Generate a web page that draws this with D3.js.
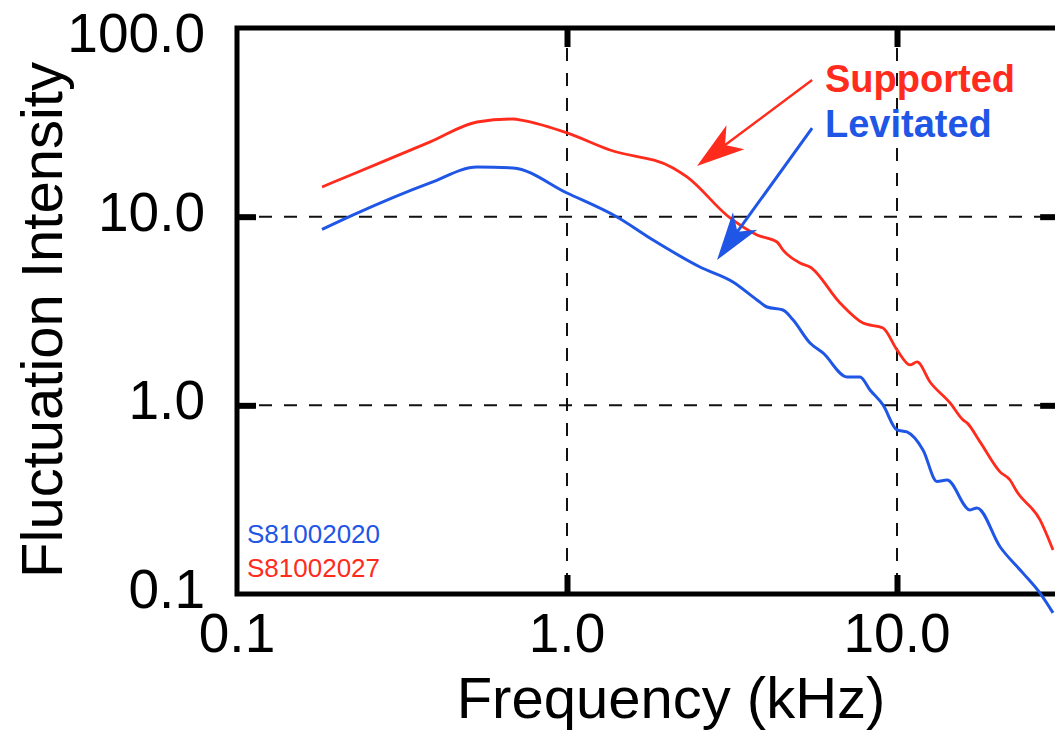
<!DOCTYPE html>
<html><head><meta charset="utf-8">
<script src="https://cdn.jsdelivr.net/npm/d3@7"></script>
<style>body{margin:0;background:#fff}svg{display:block}</style>
</head><body><svg id="c" width="1055" height="732"></svg>
<script>
const xTicks = [0.1, 1, 10];
const yTicks = [0.1, 1, 10, 100];
const xTickLabels = ["0.1", "1.0", "10.0"];
const yTickLabels = ["0.1", "1.0", "10.0", "100.0"];
const seriesNames = ["Supported", "Levitated"];
const runIds = ["S81002020", "S81002027"];

const supportedFreq = [0.181, 0.225, 0.385, 0.534, 0.686, 0.74, 1.0, 1.35, 2.096, 2.31, 3.12, 3.765, 4.33, 4.51, 5.08, 5.45, 6.72, 7.89, 9.07, 10.0, 10.95, 11.5, 12.59, 14.48, 15.85, 16.3, 17.85, 20.52, 22.0, 23.1, 27.13, 29.7];
const supportedVal  = [14.37, 16.84, 24.9, 31.75, 32.94, 32.3, 27.8, 22.56, 18.12, 16.24, 9.84, 8.0, 7.34, 6.66, 5.68, 5.41, 3.49, 2.73, 2.57, 1.966, 1.637, 1.698, 1.33, 1.03, 0.837, 0.807, 0.64, 0.444, 0.402, 0.348, 0.247, 0.171];

const levitatedFreq = [0.181, 0.225, 0.385, 0.534, 0.686, 1.0, 1.418, 1.823, 2.529, 3.184, 3.765, 4.037, 4.514, 4.839, 5.45, 5.967, 7.055, 7.725, 8.284, 9.07, 10.0, 10.72, 11.99, 13.22, 14.18, 16.64, 17.48, 20.52, 24.09, 27.13, 29.7];
const levitatedVal  = [8.55, 10.21, 15.09, 18.34, 18.12, 13.35, 9.96, 7.52, 5.41, 4.51, 3.62, 3.32, 3.2, 2.84, 2.14, 1.895, 1.414, 1.414, 1.206, 1.005, 0.741, 0.723, 0.58, 0.395, 0.402, 0.279, 0.286, 0.178, 0.129, 0.101, 0.0794];

// arrow annotations: [startFreq, startVal, tipFreq, tipVal]
const supportedArrow = [5.53, 53.0, 2.477, 18.57];
const levitatedArrow = [5.53, 29.5, 2.848, 5.89];

const RED = "#ff2b1c", BLUE = "#1f56e6";
const FONT = "'Liberation Sans', Arial, Helvetica, sans-serif";

const L = 237, T = 28, B = 594;
const R = L + 330 * Math.log10(310);
const x = d3.scaleLog().domain([0.1, 31]).range([L, R]);
const y = d3.scaleLog().domain([0.1, 100]).range([B, T]);

const svg = d3.select("#c");
svg.append("rect").attr("width", 1055).attr("height", 732).attr("fill", "#fff");

// grid
const grid = svg.append("g").attr("stroke", "#111").attr("stroke-width", 2).attr("stroke-dasharray", "13,12");
grid.selectAll(".gv").data([1, 10]).join("line")
  .attr("x1", d => x(d)).attr("x2", d => x(d)).attr("y1", T + 20).attr("y2", B - 3);
grid.selectAll(".gh").data([1, 10]).join("line")
  .attr("y1", d => y(d)).attr("y2", d => y(d)).attr("x1", L + 22).attr("x2", R);

// inward ticks via axes
function styleAxis(g) {
  g.select(".domain").remove();
  g.selectAll(".tick line").attr("stroke", "#000").attr("stroke-width", 6);
  g.selectAll(".tick text").remove();
}
const inner = [1, 10];
svg.append("g").attr("transform", `translate(${L},0)`).call(d3.axisLeft(y).tickValues(inner).tickSizeInner(-19).tickSizeOuter(0)).call(styleAxis);
svg.append("g").attr("transform", `translate(${R},0)`).call(d3.axisRight(y).tickValues(inner).tickSizeInner(-19).tickSizeOuter(0)).call(styleAxis);
svg.append("g").attr("transform", `translate(0,${B})`).call(d3.axisBottom(x).tickValues(inner).tickSizeInner(-19).tickSizeOuter(0)).call(styleAxis);
svg.append("g").attr("transform", `translate(0,${T})`).call(d3.axisTop(x).tickValues(inner).tickSizeInner(-19).tickSizeOuter(0)).call(styleAxis);

// frame
svg.append("rect").attr("x", L).attr("y", T).attr("width", R - L).attr("height", B - T)
  .attr("fill", "none").attr("stroke", "#000").attr("stroke-width", 5);

// lines
const line = d3.line().x(d => x(d[0])).y(d => y(d[1])).curve(d3.curveMonotoneX);
const sup = supportedFreq.map((f, i) => [f, supportedVal[i]]);
const lev = levitatedFreq.map((f, i) => [f, levitatedVal[i]]);
svg.append("path").attr("d", line(lev)).attr("fill", "none").attr("stroke", BLUE).attr("stroke-width", 3).attr("stroke-linejoin", "round");
svg.append("path").attr("d", line(sup)).attr("fill", "none").attr("stroke", RED).attr("stroke-width", 2.8).attr("stroke-linejoin", "round");

// arrows
function arrow(a, color, w) {
  const x0 = x(a[0]), y0 = y(a[1]), x1 = x(a[2]), y1 = y(a[3]);
  const ang = Math.atan2(y1 - y0, x1 - x0) * 180 / Math.PI;
  const len = Math.hypot(x1 - x0, y1 - y0);
  const g = svg.append("g").attr("transform", `translate(${x0},${y0}) rotate(${ang})`);
  g.append("line").attr("x1", 0).attr("y1", 0).attr("x2", len - 30).attr("y2", 0)
    .attr("stroke", color).attr("stroke-width", w);
  g.append("path").attr("d", `M${len},0 L${len - 48},-15 L${len - 35},0 L${len - 48},15 Z`).attr("fill", color);
}
arrow(supportedArrow, RED, 2.4);
arrow(levitatedArrow, BLUE, 3);

// legend labels
svg.append("text").attr("x", 825).attr("y", 92).attr("fill", RED).attr("font-family", FONT)
  .attr("font-weight", "bold").attr("font-size", 38).text(seriesNames[0]);
svg.append("text").attr("x", 825).attr("y", 137).attr("fill", BLUE).attr("font-family", FONT)
  .attr("font-weight", "bold").attr("font-size", 38).text(seriesNames[1]);

// run ids
svg.append("text").attr("x", 247).attr("y", 543).attr("fill", BLUE).attr("font-family", FONT)
  .attr("font-size", 26).text(runIds[0]);
svg.append("text").attr("x", 247).attr("y", 577).attr("fill", RED).attr("font-family", FONT)
  .attr("font-size", 26).text(runIds[1]);

// tick labels
svg.selectAll(".yl").data(yTicks).join("text")
  .attr("x", 205).attr("y", d => Math.max(y(d) + 14, 52))
  .attr("text-anchor", "end").attr("font-family", FONT).attr("font-size", 55).attr("fill", "#000")
  .text((d, i) => yTickLabels[i]);
svg.selectAll(".xl").data(xTicks).join("text")
  .attr("x", d => x(d)).attr("y", 652)
  .attr("text-anchor", "middle").attr("font-family", FONT).attr("font-size", 55).attr("fill", "#000")
  .text((d, i) => xTickLabels[i]);

// axis titles
svg.append("text").attr("x", 671).attr("y", 718).attr("text-anchor", "middle")
  .attr("font-family", FONT).attr("font-size", 58).attr("fill", "#000").text("Frequency (kHz)");
svg.append("text").attr("transform", "translate(62,320) rotate(-90)").attr("text-anchor", "middle")
  .attr("font-family", FONT).attr("font-size", 58).attr("fill", "#000").text("Fluctuation Intensity");
</script></body></html>
